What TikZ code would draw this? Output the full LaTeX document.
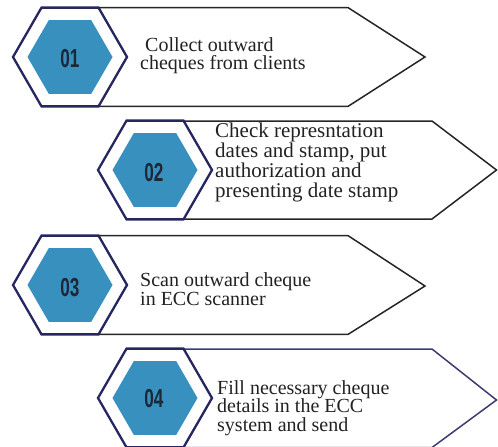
\documentclass[tikz,border=0pt]{standalone}
\usepackage{fontspec}
\setmainfont{Liberation Serif}
\newfontfamily\numfont{Liberation Sans}
\usetikzlibrary{shapes.geometric}
\definecolor{navy}{HTML}{262660}
\definecolor{hexblue}{HTML}{3890BE}
\definecolor{numcol}{HTML}{1C2838}
\definecolor{txtcol}{HTML}{222222}
\tikzset{
  outerhex/.style={regular polygon, regular polygon sides=6, minimum size=114pt,
    inner sep=0pt, draw=navy, line width=2.3pt, fill=white},
  innerhex/.style={regular polygon, regular polygon sides=6, minimum size=85pt,
    inner sep=0pt, fill=hexblue, draw=none},
  numlabel/.style={inner sep=0pt, text=numcol,
    font=\numfont\bfseries\fontsize{26}{26}\selectfont},
  arrowshape/.style={draw=black!85, line width=1.5pt, fill=white, line join=miter},
  steptext/.style={anchor=west, align=left, inner sep=0pt, text=txtcol,
    font=\fontsize{20}{18.5}\selectfont},
}
\newcommand{\numtxt}[1]{\scalebox{0.66}[1]{#1}}
\begin{document}
\begin{tikzpicture}[x=1pt,y=-1pt]
\useasboundingbox (0,0) rectangle (498,447);
% row 1
\draw[arrowshape] (98.5,7.6) -- (348,7.6) -- (425,57) -- (348,106.4) -- (98.5,106.4) -- (127,57) -- cycle;
\node[outerhex] (o1) at (70,57) {};
\node[innerhex] (i1) at (70,57) {};
\node[numlabel] (n1) at (70,59) {\numtxt{01}};
\node[steptext] (t1) at (140,55.5) {\hspace*{5pt}Collect outward\\cheques from clients};
% row 2
\draw[arrowshape] (183.5,121) -- (432,121) -- (496.5,170) -- (432,219) -- (183.5,219) -- (212,170) -- cycle;
\node[outerhex] (o2) at (155,170) {};
\node[innerhex] (i2) at (155,170) {};
\node[numlabel] (n2) at (154,172.5) {\numtxt{02}};
\node[steptext, font=\fontsize{21}{20}\selectfont] (t2) at (215,162)
  {Check represntation\\dates and stamp, put\\authorization and\\presenting date stamp};
% row 3
\draw[arrowshape] (98.5,235.6) -- (348,235.6) -- (425,286) -- (348,334.4) -- (98.5,334.4) -- (127,285) -- cycle;
\node[outerhex] (o3) at (70,285) {};
\node[innerhex] (i3) at (70,285) {};
\node[numlabel] (n3) at (70,288) {\numtxt{03}};
\node[steptext] (t3) at (140,289) {Scan outward cheque\\in ECC scanner};
% row 4
\draw[arrowshape, draw=navy!90] (183.5,349) -- (432,349) -- (496.5,400) -- (432,447.5) -- (183.5,447.5) -- (212,398) -- cycle;
\node[outerhex] (o4) at (155,398) {};
\node[innerhex] (i4) at (155,398) {};
\node[numlabel] (n4) at (154,399) {\numtxt{04}};
\node[steptext] (t4) at (217,408) {Fill necessary cheque\\details in the ECC\\system and send};
\end{tikzpicture}
\end{document}
